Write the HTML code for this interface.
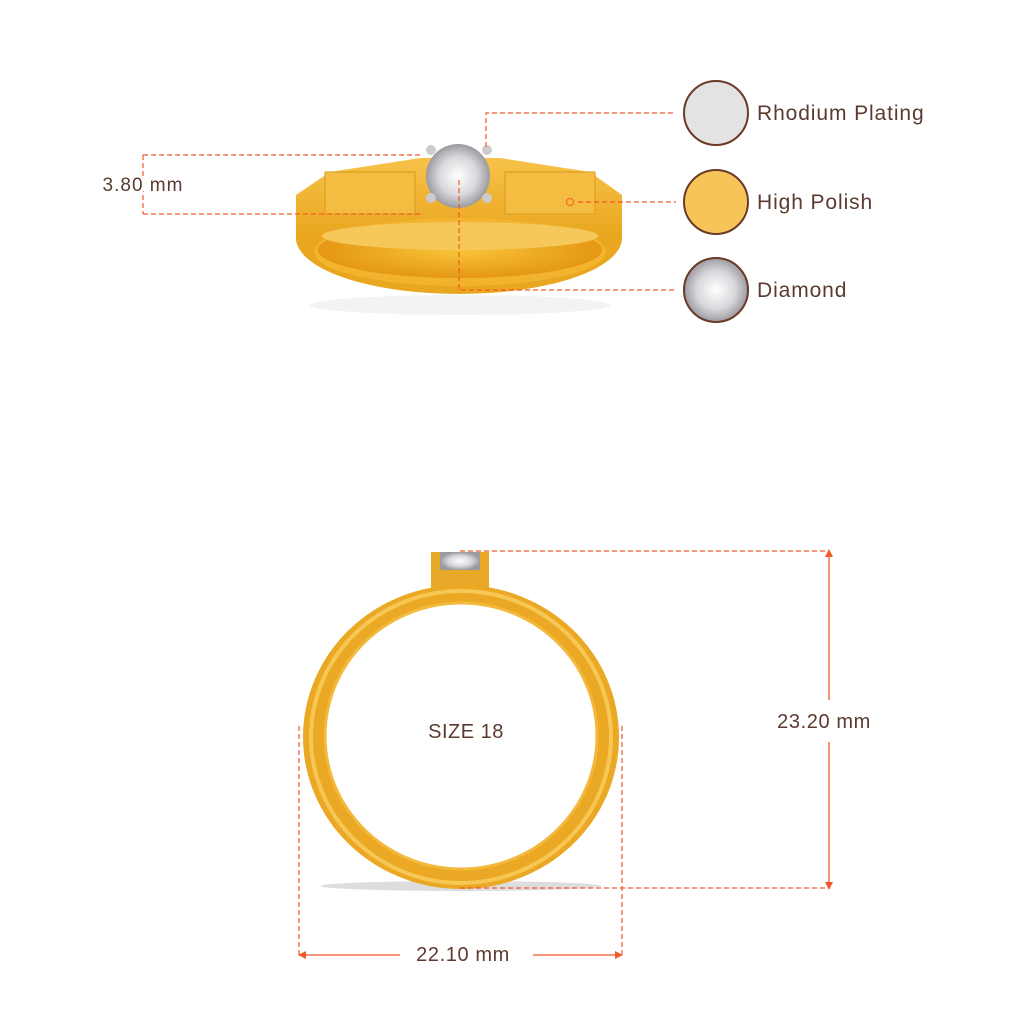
<!DOCTYPE html>
<html><head><style>
body{margin:0;background:#fff;}
svg{display:block}
text{font-family:"Liberation Sans",sans-serif;fill:#5b3a2f}
</style></head><body>
<svg width="1024" height="1024" viewBox="0 0 1024 1024" xmlns="http://www.w3.org/2000/svg">
<defs>
<linearGradient id="g1" x1="0" y1="0" x2="0" y2="1">
<stop offset="0" stop-color="#f7c24a"/><stop offset="1" stop-color="#e9a51c"/></linearGradient>
<radialGradient id="gin" cx="0.5" cy="0.5" r="0.6">
<stop offset="0" stop-color="#f9c53a"/><stop offset="1" stop-color="#e08e0c"/></radialGradient>
<radialGradient id="dia" cx="0.5" cy="0.5" r="0.5">
<stop offset="0" stop-color="#ffffff"/><stop offset="0.6" stop-color="#d8d8dc"/><stop offset="1" stop-color="#9a9aa0"/></radialGradient>
</defs>

<!-- TOP RING -->
<ellipse cx="460" cy="305" rx="150" ry="10" fill="#eee" opacity="0.7"/>
<ellipse cx="459" cy="238" rx="163" ry="56" fill="#e9a71f"/>
<path d="M296 195 L330 172 L420 158 L500 158 L590 172 L622 195 L622 240 L296 240 Z" fill="url(#g1)"/>
<ellipse cx="460" cy="252" rx="146" ry="34" fill="#f2b32e"/>
<ellipse cx="460" cy="250" rx="142" ry="28" fill="url(#gin)"/>
<ellipse cx="460" cy="236" rx="138" ry="14" fill="#f6c85a"/>
<rect x="325" y="172" width="90" height="42" fill="#f4bd42" stroke="#d99a1a"/>
<rect x="505" y="172" width="90" height="42" fill="#f4bd42" stroke="#d99a1a"/>
<circle cx="458" cy="176" r="32" fill="url(#dia)"/>
<circle cx="431" cy="150" r="5" fill="#ccc"/><circle cx="487" cy="150" r="5" fill="#ccc"/>
<circle cx="431" cy="198" r="5" fill="#ccc"/><circle cx="487" cy="198" r="5" fill="#ccc"/>

<g stroke="#f05a28" stroke-width="1.2" stroke-dasharray="5,3" fill="none">
<line x1="143" y1="155" x2="423" y2="155"/>
<line x1="143" y1="214" x2="420" y2="214"/>
<line x1="143" y1="155" x2="143" y2="214"/>
<polyline points="486,147 486,113 676,113"/>
<line x1="578" y1="202" x2="676" y2="202"/>
<polyline points="459,180 459,290 676,290"/>
</g>
<circle cx="570" cy="202" r="3.5" fill="none" stroke="#f05a28"/>
<text x="143" y="191" font-size="19" letter-spacing="1" text-anchor="middle" style="paint-order:stroke" stroke="#fff" stroke-width="6">3.80 mm</text>

<circle cx="716" cy="113" r="32" fill="#e3e3e3" stroke="#6b3a26" stroke-width="2"/>
<circle cx="716" cy="202" r="32" fill="#f6c458" stroke="#6b3a26" stroke-width="2"/>
<circle cx="716" cy="290" r="32" fill="url(#dia)" stroke="#6b3a26" stroke-width="2"/>
<text x="757" y="120" font-size="21" letter-spacing="0.9">Rhodium Plating</text>
<text x="757" y="209" font-size="21" letter-spacing="0.9">High Polish</text>
<text x="757" y="297" font-size="21" letter-spacing="0.9">Diamond</text>

<!-- FRONT RING -->
<ellipse cx="461" cy="886" rx="140" ry="5" fill="#ddd"/>
<rect x="431" y="552" width="58" height="36" fill="#e8a928"/>
<rect x="440" y="552" width="40" height="18" fill="url(#dia)"/>
<ellipse cx="461" cy="737" rx="158" ry="152" fill="#eaa824"/>
<ellipse cx="461" cy="737" rx="150" ry="146" fill="none" stroke="#f7c753" stroke-width="4"/>
<ellipse cx="461" cy="736" rx="136" ry="133" fill="#fff" stroke="#f3b93d" stroke-width="3"/>
<text x="466" y="738" font-size="20" letter-spacing="0.5" text-anchor="middle">SIZE 18</text>

<g stroke="#f05a28" stroke-width="1.2" stroke-dasharray="5,3" fill="none">
<line x1="460" y1="551" x2="829" y2="551"/>
<line x1="460" y1="888" x2="829" y2="888"/>
<line x1="299" y1="726" x2="299" y2="956"/>
<line x1="622" y1="726" x2="622" y2="956"/>
</g>
<g stroke="#f05a28" stroke-width="1.3" fill="#f05a28">
<line x1="829" y1="553" x2="829" y2="700"/>
<line x1="829" y1="742" x2="829" y2="886"/>
<polygon points="829,549 825,557 833,557" stroke="none"/>
<polygon points="829,890 825,882 833,882" stroke="none"/>
<line x1="301" y1="955" x2="400" y2="955"/>
<line x1="533" y1="955" x2="620" y2="955"/>
<polygon points="298,955 306,951 306,959" stroke="none"/>
<polygon points="623,955 615,951 615,959" stroke="none"/>
</g>
<text x="824" y="728" font-size="20" letter-spacing="0.6" text-anchor="middle">23.20 mm</text>
<text x="463" y="961" font-size="20" letter-spacing="0.6" text-anchor="middle">22.10 mm</text>
</svg>
</body></html>
